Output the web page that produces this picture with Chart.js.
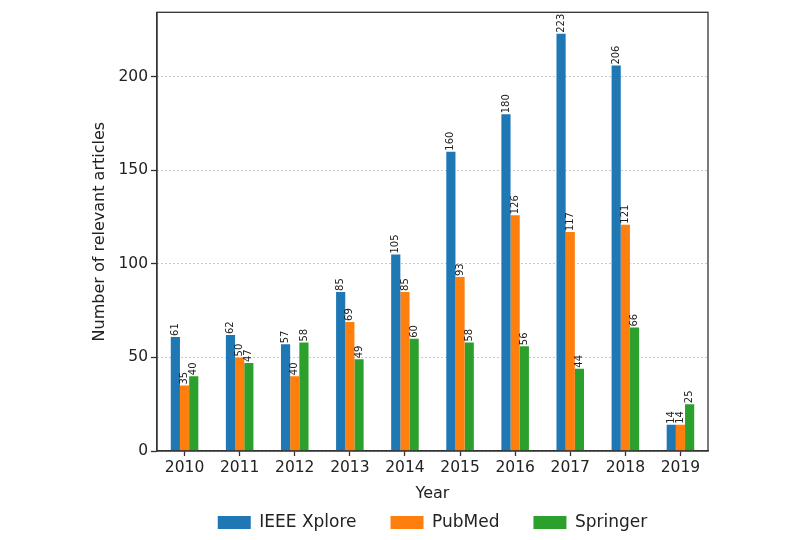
<!DOCTYPE html>
<html>
<head>
<meta charset="utf-8">
<script src="https://cdn.jsdelivr.net/npm/chart.js@4.4.1/dist/chart.umd.min.js"></script>
<style>
  html, body { margin: 0; padding: 0; background: #fff; }
  #wrap { width: 800px; height: 540px; }
</style>
</head>
<body>
<div id="wrap"><canvas id="articlesChart" width="800" height="540"></canvas></div>
<script>
const years = ['2010', '2011', '2012', '2013', '2014', '2015', '2016', '2017', '2018', '2019'];
const ieeeXplore = [61, 62, 57, 85, 105, 160, 180, 223, 206, 14];
const pubMed = [35, 50, 40, 69, 85, 93, 126, 117, 121, 14];
const springer = [40, 47, 58, 49, 60, 58, 56, 44, 66, 25];
const yTicks = [0, 50, 100, 150, 200];

const FONT = 'DejaVu Sans';
const AXIS_COLOR = '#333';
const TEXT_COLOR = '#222';

// Value labels, rotated, above each bar
const barLabels = {
  id: 'barLabels',
  afterDatasetsDraw(chart) {
    const ctx = chart.ctx;
    ctx.save();
    ctx.font = `10px "${FONT}"`;
    ctx.fillStyle = TEXT_COLOR;
    ctx.textAlign = 'left';
    ctx.textBaseline = 'middle';
    chart.data.datasets.forEach((ds, i) => {
      chart.getDatasetMeta(i).data.forEach((bar, j) => {
        ctx.save();
        ctx.translate(bar.x, bar.y - 1);
        ctx.rotate(-Math.PI / 2);
        ctx.fillText(String(ds.data[j]), 0, 0);
        ctx.restore();
      });
    });
    ctx.restore();
  }
};

// Box round the plot area (top and right spines)
const frame = {
  id: 'frame',
  afterDraw(chart) {
    const { ctx, chartArea: a } = chart;
    ctx.save();
    ctx.strokeStyle = AXIS_COLOR;
    ctx.lineWidth = 1.3;
    ctx.strokeRect(a.left, a.top, a.right - a.left, a.bottom - a.top);
    ctx.restore();
  }
};

// legend padding is also used vertically, so pull the legend up a bit
const legendShift = {
  id: 'legendShift',
  afterLayout(chart) {
    const lg = chart.legend;
    const h = lg.bottom - lg.top;
    lg.top = 524 - lg.options.labels.padding - 10;
    lg.bottom = lg.top + h;
  }
};

const ctx = document.getElementById('articlesChart').getContext('2d');
new Chart(ctx, {
  type: 'bar',
  data: {
    labels: years,
    datasets: [
      { label: 'IEEE Xplore', data: ieeeXplore, backgroundColor: '#1f77b4' },
      { label: 'PubMed', data: pubMed, backgroundColor: '#ff7f0e' },
      { label: 'Springer', data: springer, backgroundColor: '#2ca02c' },
    ],
  },
  options: {
    responsive: false,
    animation: false,
    layout: { padding: { left: 90, right: 92, top: 12, bottom: -24 } },
    datasets: { bar: { categoryPercentage: 0.5, barPercentage: 1.0 } },
    plugins: {
      tooltip: { enabled: false },
      legend: {
        position: 'bottom',
        fullSize: false,
        labels: {
          boxWidth: 33,
          boxHeight: 13,
          padding: 34,
          color: TEXT_COLOR,
          font: { family: FONT, size: 17 },
        },
      },
    },
    scales: {
      x: {
        grid: {
          drawOnChartArea: false,
          tickLength: 5,
          tickColor: AXIS_COLOR,
          tickWidth: 1.3,
          offset: false,
        },
        border: { color: AXIS_COLOR, width: 1.3 },
        ticks: { color: TEXT_COLOR, font: { family: FONT, size: 15.5 }, padding: 3, maxRotation: 0 },
        title: { display: true, text: 'Year', color: TEXT_COLOR, font: { family: FONT, size: 16 }, padding: { top: 2, bottom: 0 } },
        afterFit: (scale) => { scale.height = 52; },
      },
      y: {
        min: 0,
        max: 234.5,
        grid: {
          color: '#b8b8b8',
          lineWidth: 1,
          tickLength: 6,
          tickColor: AXIS_COLOR,
          tickWidth: 1.3,
          tickBorderDash: [],
        },
        border: { color: AXIS_COLOR, width: 1.3, dash: [1.5, 2.5] },
        ticks: { color: TEXT_COLOR, font: { family: FONT, size: 15.5 }, padding: 3, stepSize: 50 },
        afterBuildTicks: (scale) => {
          scale.ticks = yTicks.map((v) => ({ value: v }));
        },
        title: { display: true, text: 'Number of relevant articles', color: TEXT_COLOR, font: { family: FONT, size: 16 }, padding: { top: 0, bottom: 6 } },
        afterFit: (scale) => { scale.width = 67; },
      },
    },
  },
  plugins: [barLabels, frame, legendShift],
});
</script>
</body>
</html>
